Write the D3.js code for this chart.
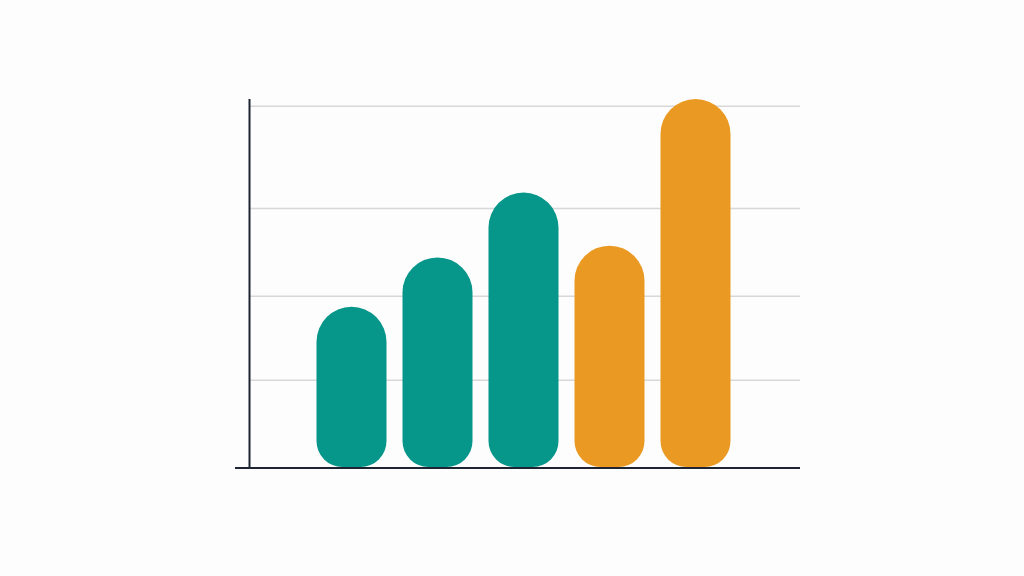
<!DOCTYPE html>
<html><head><meta charset="utf-8">
<script src="https://cdn.jsdelivr.net/npm/d3@7"></script>
<style>html,body{margin:0;padding:0;background:#fdfdfd;}svg{display:block;}</style>
</head><body>
<svg id="c" width="1024" height="576"></svg>
<script>
const categories = ["A","B","C","D","E"];
const values = [43.6, 57.0, 74.6, 60.2, 100];
const groups = ["teal","teal","teal","orange","orange"];
const gridTicks = [23.7, 46.5, 70.3, 98];

const colors = {teal:"#07968a", orange:"#ea9a22"};
const svg = d3.select("#c");
const x = d3.scaleBand().domain(categories).range([308.5, 738.5]).paddingInner(0.186).paddingOuter(0.093);
const y = d3.scaleLinear().domain([0,100]).range([467.5, 99]);

// gridlines
svg.append("g").selectAll("line").data(gridTicks).join("line")
  .attr("x1", 250).attr("x2", 800)
  .attr("y1", d=>y(d)).attr("y2", d=>y(d))
  .attr("stroke", "#d8d8d8").attr("stroke-width", 1.5);

// bars
const rb = 26;
function barPath(x0, w, top, bottom){
  const r = w/2;
  return `M${x0},${bottom-rb} L${x0},${top+r} A${r},${r} 0 0 1 ${x0+w},${top+r} L${x0+w},${bottom-rb} A${rb},${rb} 0 0 1 ${x0+w-rb},${bottom} L${x0+rb},${bottom} A${rb},${rb} 0 0 1 ${x0},${bottom-rb} Z`;
}
svg.append("g").selectAll("path").data(categories).join("path")
  .attr("d", (d,i)=>barPath(x(d), x.bandwidth(), y(values[i]), y(0)-0.5))
  .attr("fill", (d,i)=>colors[groups[i]]);

// axes
svg.append("line").attr("x1",249.5).attr("x2",249.5).attr("y1",99).attr("y2",468)
  .attr("stroke","#1f2433").attr("stroke-width",2);
svg.append("line").attr("x1",235).attr("x2",800).attr("y1",468).attr("y2",468)
  .attr("stroke","#1f2433").attr("stroke-width",2);
</script>
</body></html>
